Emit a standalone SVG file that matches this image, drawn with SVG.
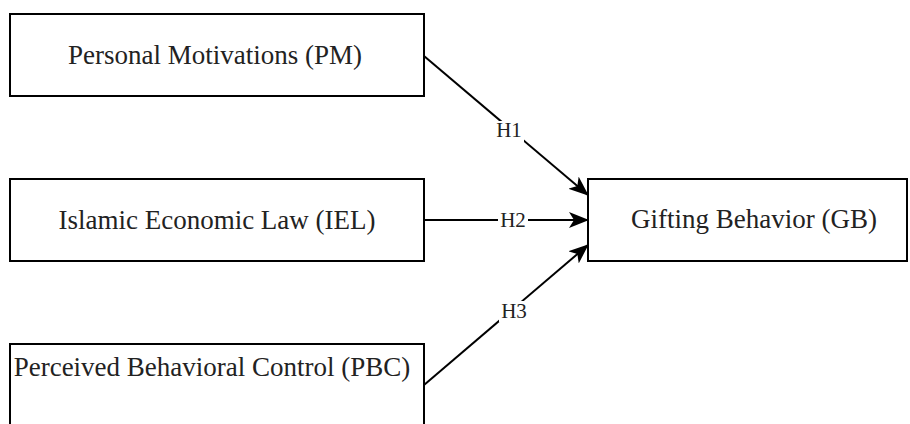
<svg xmlns="http://www.w3.org/2000/svg" width="910" height="424" viewBox="0 0 910 424">
<style>
.box{fill:#fff;stroke:#000;stroke-width:2}
.t{font-family:"Liberation Serif","Times New Roman",serif;font-size:27px;fill:#222;text-anchor:middle}
.h{font-family:"Liberation Serif","Times New Roman",serif;font-size:21px;fill:#222;text-anchor:middle}
.c{fill:none;stroke:#000;stroke-width:2}
.lb{fill:#fff}
</style>
<defs>
<marker id="ah" markerUnits="userSpaceOnUse" markerWidth="20" markerHeight="16" viewBox="0 0 20 16" refX="19" refY="8" orient="auto">
<path d="M0,0 L20,8 L0,16 L5,8 z" fill="#000"/>
</marker>
</defs>
<rect width="910" height="424" fill="#fff"/>
<g id="pm"><rect class="box" x="10" y="14" width="414" height="82"/><text class="t" x="215" y="64">Personal Motivations (PM)</text></g>
<g id="iel"><rect class="box" x="10" y="179" width="414" height="82"/><text class="t" x="217" y="229">Islamic Economic Law (IEL)</text></g>
<g id="pbc"><rect class="box" x="10" y="344" width="414" height="84"/><text class="t" x="212" y="376">Perceived Behavioral Control (PBC)</text></g>
<g id="gb"><rect class="box" x="588" y="179" width="319" height="82"/><text class="t" x="754" y="228">Gifting Behavior (GB)</text></g>
<g id="connectors">
<line class="c" x1="424" y1="56" x2="588" y2="195" marker-end="url(#ah)"/>
<line class="c" x1="424" y1="220" x2="588" y2="220" marker-end="url(#ah)"/>
<line class="c" x1="424" y1="385" x2="588" y2="245" marker-end="url(#ah)"/>
<rect class="lb" x="495" y="121" width="29" height="21"/><text class="h" x="509" y="137">H1</text>
<rect class="lb" x="498" y="210" width="30" height="21"/><text class="h" x="513" y="227">H2</text>
<rect class="lb" x="499" y="301" width="30" height="21"/><text class="h" x="514" y="318">H3</text>
</g>
</svg>
